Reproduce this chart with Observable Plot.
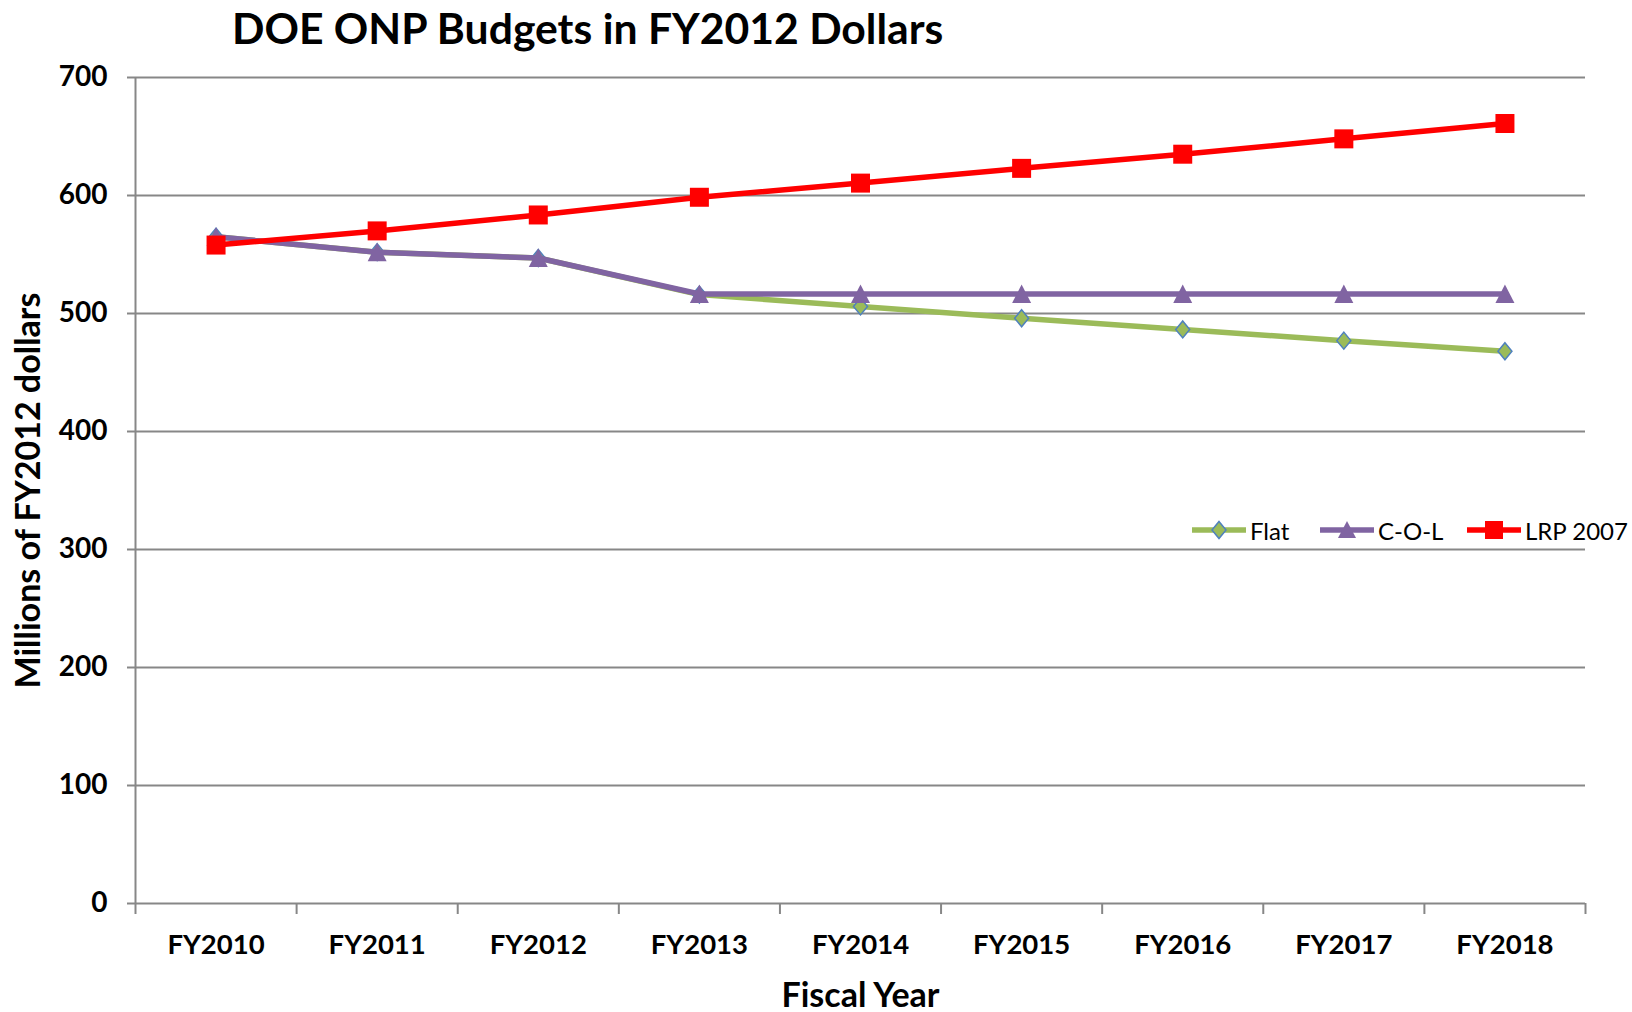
<!DOCTYPE html>
<html>
<head>
<meta charset="utf-8">
<script src="https://cdn.jsdelivr.net/npm/d3@7"></script>
<script src="https://cdn.jsdelivr.net/npm/@observablehq/plot@0.6"></script>
<style>
  html, body { margin: 0; padding: 0; background: #fff; }
  #wrap { position: relative; width: 1632px; height: 1012px; overflow: hidden; font-family: Lato, "Open Sans", sans-serif; }
  #title { position: absolute; left: 232px; top: 0px; font-size: 42.7px; font-weight: bold; white-space: nowrap; color: #000; line-height: 56px; z-index: 2; }
  #chart { position: absolute; left: 0; top: 40px; z-index: 1; }
  .leg { position: absolute; top: 516px; height: 28px; display: flex; align-items: center; font-size: 24px; color: #000; white-space: nowrap; z-index: 3; }
  .leg svg { margin-right: 4px; }
</style>
</head>
<body>
<div id="wrap">
  <div id="title">DOE ONP Budgets in FY2012 Dollars</div>
  <div id="chart"></div>
</div>
<script>
// ---- data ----
const years = ["FY2010", "FY2011", "FY2012", "FY2013", "FY2014", "FY2015", "FY2016", "FY2017", "FY2018"];
const flat = [565, 552, 547, 516, 506, 496, 486.5, 477, 468];
const col  = [565, 552, 547, 516.5, 516.5, 516.5, 516.5, 516.5, 516.5];
const lrp  = [558, 570, 583.5, 598.5, 610.5, 623, 635, 648, 661];
const yTicks = [0, 100, 200, 300, 400, 500, 600, 700];
const seriesNames = ["Flat", "C-O-L", "LRP 2007"];

// ---- styles ----
const gray = "#878787";
const green = "#9BBB59", purple = "#8064A2", red = "#FF0000", blue = "#4F81BD";

const rowsOf = (vals) => years.map((year, i) => ({year, pos: i + 0.5, value: vals[i]}));
const flatRows = rowsOf(flat), colRows = rowsOf(col), lrpRows = rowsOf(lrp);

const diamondSym = {draw(c) { c.moveTo(0, -8.5); c.lineTo(7, 0); c.lineTo(0, 8.5); c.lineTo(-7, 0); c.closePath(); }};
const triangleSym = {draw(c) { c.moveTo(0, -9.5); c.lineTo(9.5, 9); c.lineTo(-9.5, 9); c.closePath(); }};
const squareSym = {draw(c) { c.moveTo(-9.5, -9.5); c.lineTo(9.5, -9.5); c.lineTo(9.5, 9.5); c.lineTo(-9.5, 9.5); c.closePath(); }};

const boundaries = d3.range(years.length + 1);
const centers = years.map((_, i) => i + 0.5);

const chart = Plot.plot({
  width: 1632,
  height: 972,
  marginTop: 37,
  marginBottom: 109,
  marginLeft: 135,
  marginRight: 47,
  x: {type: "linear", domain: [0, years.length]},
  y: {domain: [0, 700]},
  style: {fontFamily: "Lato, 'Open Sans', sans-serif", background: "transparent", color: "black"},
  marks: [
    Plot.ruleY(yTicks, {stroke: gray, strokeWidth: 2}),
    Plot.ruleX([0], {stroke: gray, strokeWidth: 2}),
    Plot.axisY({ticks: yTicks, tickSize: 8, tickPadding: 20, stroke: gray, strokeWidth: 2, fill: "black", fontSize: 28, fontWeight: "bold", label: null}),
    Plot.axisX({ticks: boundaries, tickSize: 11, stroke: gray, strokeWidth: 2, tickFormat: () => "", label: null}),
    Plot.axisX({ticks: centers, tickSize: 0, tickPadding: 31, tickFormat: d => years[Math.floor(d)], fontSize: 27.5, fontWeight: "bold", fill: "black", label: null}),
    Plot.line(flatRows, {x: "pos", y: "value", stroke: green, strokeWidth: 5.5, strokeLinejoin: "round"}),
    Plot.dot(flatRows, {x: "pos", y: "value", symbol: diamondSym, r: 5, fill: green, stroke: blue, strokeWidth: 1.5}),
    Plot.line(colRows, {x: "pos", y: "value", stroke: purple, strokeWidth: 5.5, strokeLinejoin: "round"}),
    Plot.dot(colRows, {x: "pos", y: "value", symbol: triangleSym, r: 5, fill: purple, stroke: "none"}),
    Plot.line(lrpRows, {x: "pos", y: "value", stroke: red, strokeWidth: 5.5, strokeLinejoin: "round"}),
    Plot.dot(lrpRows, {x: "pos", y: "value", symbol: squareSym, r: 5, fill: red, stroke: "none"}),
    Plot.text(["Millions of FY2012 dollars"], {text: d => d, frameAnchor: "left", textAnchor: "middle", dx: -106, rotate: -90, fontSize: 34, fontWeight: "bold", fill: "black"}),
    Plot.text(["Fiscal Year"], {text: d => d, frameAnchor: "bottom", textAnchor: "middle", dy: 103, fontSize: 34, fontWeight: "bold", fill: "black"})
  ]
});
document.getElementById("chart").appendChild(chart);

// ---- legend ----
const legendDefs = [
  {name: seriesNames[0], color: green, left: 1192, marker: `<path d="M27,3.5 L34,12 L27,20.5 L20,12 Z" fill="${green}" stroke="${blue}" stroke-width="1.5"/>`},
  {name: seriesNames[1], color: purple, left: 1320, marker: `<path d="M27,3 L36,20 L18,20 Z" fill="${purple}"/>`},
  {name: seriesNames[2], color: red, left: 1467, marker: `<rect x="18" y="3" width="18" height="18" fill="${red}"/>`}
];
const wrap = document.getElementById("wrap");
for (const d of legendDefs) {
  const el = document.createElement("div");
  el.className = "leg";
  el.style.left = d.left + "px";
  el.innerHTML = `<svg width="54" height="24"><line x1="1" y1="12" x2="53" y2="12" stroke="${d.color}" stroke-width="5.5" stroke-linecap="round"/>${d.marker}</svg><span>${d.name}</span>`;
  wrap.appendChild(el);
}
</script>
</body>
</html>
